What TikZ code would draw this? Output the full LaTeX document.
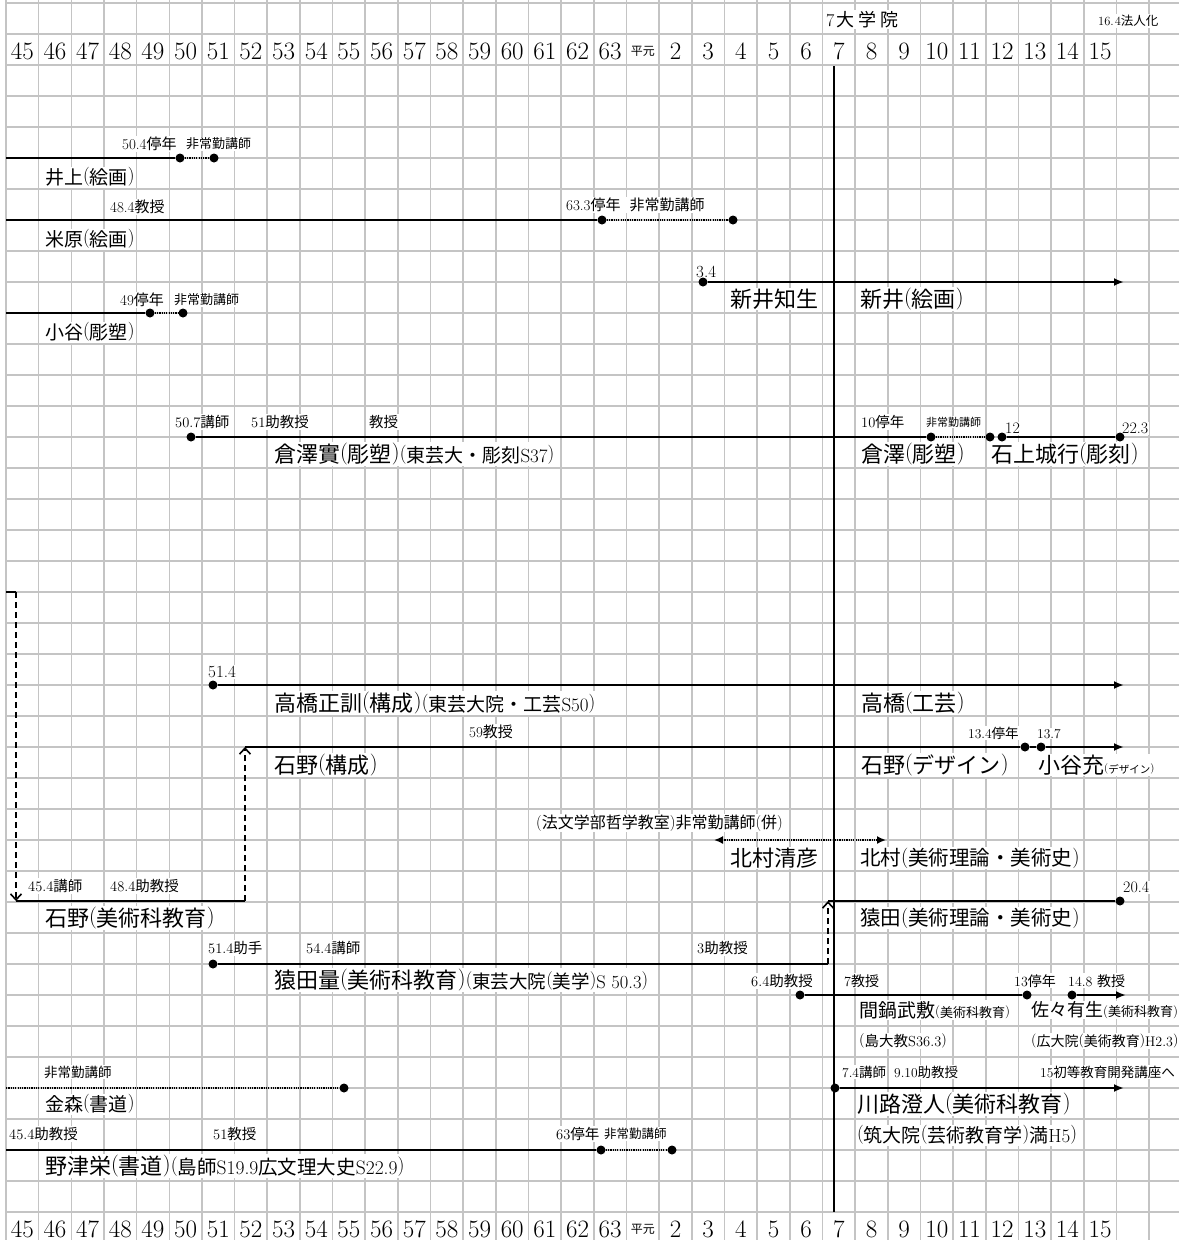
\documentclass[tikz,border=0pt]{standalone}
\usepackage{fontspec}
\newfontfamily\jp{Noto Sans CJK JP}
\usetikzlibrary{arrows.meta}
\newcommand\jt[1]{{\jp #1}}
\newcommand\LP{{\rmfamily\raisebox{0.12em}{(}}}
\newcommand\RP{{\rmfamily\raisebox{0.12em}{)}}}
\newcommand\lbl[5]{\node[lb] (#1) at (#2,{#3+0.37*#4}) {\fontsize{#4}{#4}\selectfont #5};}
\newcommand\fs[1]{\fontsize{#1}{#1}\selectfont}
\begin{document}
\begin{tikzpicture}[x=1pt,y=-1pt,
  grid/.style={draw=black!23, line width=1.6pt},
  tl/.style={draw=black, line width=2.2pt},
  dt/.style={draw=black, line width=1.7pt, dash pattern=on 1.2pt off 1.1pt},
  dsh/.style={draw=black, line width=1.6pt, dash pattern=on 6pt off 4pt},
  dot/.style={circle, fill=black, inner sep=0pt, minimum size=9pt},
  tip/.style={-{Latex[length=10pt,width=8pt]}},
  barb/.style={-{Straight Barb[length=6pt,width=11pt]}},
  lb/.style={anchor=base west, inner sep=1pt, fill=white},
  yr/.style={anchor=base, inner sep=0pt, font=\fontsize{25}{25}\selectfont}]
\fill[white] (0,0) rectangle (1179,1240);
\useasboundingbox (0,0) rectangle (1179,1240);
% grid
\foreach \k in {0,...,35} \draw[grid] ({6+32.66*\k},0) -- ({6+32.66*\k},1240);
\foreach \j in {0,...,39} \draw[grid] (6,{3+31*\j}) -- (1179,{3+31*\j});
% year labels
\foreach \t [count=\i from 0] in {45,...,63} {
  \node[yr] (yt\i) at ({6+32.66*(\i+0.5)},59) {\t};
  \node[yr] (yb\i) at ({6+32.66*(\i+0.5)},1237) {\t};
}
\node[yr, font=\fs{12}\jp] (yt19) at ({6+32.66*19.5},55.5) {平元};
\node[yr, font=\fs{12}\jp] (yb19) at ({6+32.66*19.5},1233) {平元};
\foreach \t [count=\i from 20] in {2,...,15} {
  \node[yr] (yt\i) at ({6+32.66*(\i+0.5)},59) {\t};
  \node[yr] (yb\i) at ({6+32.66*(\i+0.5)},1237) {\t};
}
% top notes
\lbl{tdaigakuin}{825}{20}{18}{7\hspace{2pt}\jt{大\hspace{4pt}学\hspace{4pt}院}}
\lbl{thojin}{1097}{21}{12.5}{16.\hspace{1pt}4\jt{法人化}}
% labels
\lbl{ia}{121}{144}{15}{50.4\jt{停年}}
\lbl{ib}{185}{144}{13}{\jt{非常勤講師}}
\lbl{in}{44}{177}{19}{\jt{井上\LP 絵画\RP}}
\lbl{ya}{109}{207}{15}{48.4\jt{教授}}
\lbl{yb}{565}{205}{15}{63.3\jt{停年}\hspace{9pt}\jt{非常勤講師}}
\lbl{yn}{44}{239}{19}{\jt{米原\LP 絵画\RP}}
\lbl{na}{695}{271}{17}{3.4}
\lbl{nn}{729}{299}{22}{\jt{新井知生}}
\lbl{nm}{859}{299}{22}{\jt{新井\LP 絵画\RP}}
\lbl{ka}{119}{300}{15}{49\jt{停年}}
\lbl{kb}{173}{300}{13}{\jt{非常勤講師}}
\lbl{kn}{44}{332}{19}{\jt{小谷\LP 彫塑\RP}}
\lbl{ra}{174}{422}{14.5}{50.7\jt{講師}}
\lbl{rb}{250}{422}{14.5}{51\jt{助教授}}
\lbl{rc}{368}{422}{14.5}{\jt{教授}}
\lbl{rd}{860}{422}{14.5}{10\jt{停年}}
\lbl{re}{925}{422}{11}{\jt{非常勤講師}}
\lbl{rf}{1004}{428}{16}{12}
\lbl{rg}{1121}{428}{16}{22.3}
\lbl{rn}{273}{454}{22}{\jt{倉澤實\LP 彫塑\RP}{\fs{19}\jt{\LP 東芸大・彫刻}S37\RP}}
\lbl{rm}{860}{454}{22}{\jt{倉澤\LP 彫塑\RP}}
\lbl{rs}{990}{454}{22}{\jt{石上城行\LP 彫刻\RP}}
\lbl{ha}{207}{671}{17}{51.4}
\lbl{hn}{273}{703}{22}{\jt{高橋正訓\LP 構成\RP}{\fs{19}\jt{\LP 東芸大院・工芸}S50\RP}}
\lbl{hm}{860}{703}{22}{\jt{高橋\LP 工芸\RP}}
\lbl{sa}{468}{732}{15}{59\jt{教授}}
\lbl{sb}{967}{733}{13.5}{13.4\jt{停年}}
\lbl{sc}{1036}{733}{13.5}{13.7}
\lbl{sn}{273}{765}{22}{\jt{石野\LP 構成\RP}}
\lbl{sm}{860}{765}{22}{\jt{石野\LP デザイン\RP}}
\lbl{so}{1037}{765}{22}{\jt{小谷充}{\fs{10.5}\jt{\LP デザイン\RP}}}
\lbl{ka2}{535}{823}{16}{\jt{\LP 法文学部哲学教室\RP 非常勤講師\LP 併\RP}}
\lbl{kn2}{729}{858}{22}{\jt{北村清彦}}
\lbl{km2}{859}{858}{20.5}{\jt{北村\LP 美術理論・美術史\RP}}
\lbl{ea}{27}{886}{14.5}{45.4\jt{講師}}
\lbl{eb}{109}{886}{14.5}{48.4\jt{助教授}}
\lbl{en}{44}{918}{22}{\jt{石野\LP 美術科教育\RP}}
\lbl{qa}{1122}{887}{16}{20.4}
\lbl{qn}{859}{918}{20.5}{\jt{猿田\LP 美術理論・美術史\RP}}
\lbl{pa}{207}{948}{14.5}{51.4\jt{助手}}
\lbl{pb}{305}{948}{14.5}{54.4\jt{講師}}
\lbl{pc}{696}{948}{14.5}{3\jt{助教授}}
\lbl{pn}{273}{980}{22}{\jt{猿田量\LP 美術科教育\RP}{\fs{18.5}\jt{\LP 東芸大院\LP 美学\RP}S 50.3\RP}}
\lbl{wa}{750}{981}{14.5}{6.4\jt{助教授}}
\lbl{wb}{843}{981}{14}{7\jt{教授}}
\lbl{wc}{1013}{981}{14}{13\jt{停年}}
\lbl{wd}{1067}{981}{14}{14.8 \jt{教授}}
\lbl{wn}{858}{1010}{19}{\jt{間鍋武敷}{\fs{13}\jt{\LP 美術科教育\RP}}}
\lbl{wm}{1030}{1010}{18}{\jt{佐々有生}{\fs{13}\jt{\LP 美術科教育\RP}}}
\lbl{wo}{858}{1041}{14.5}{\jt{\LP 島大教}S36.3\RP}
\lbl{wp}{1030}{1041}{14}{\jt{\LP 広大院\LP 美術教育\RP}H2.3\RP}
\lbl{ga}{43}{1072}{13.5}{\jt{非常勤講師}}
\lbl{gn}{44}{1104}{19}{\jt{金森\LP 書道\RP}}
\lbl{ca}{841}{1072}{13.5}{7.4\jt{講師}}
\lbl{cb}{893}{1072}{13.5}{9.10\jt{助教授}}
\lbl{cc}{1039}{1072}{13.5}{15\jt{初等教育開発講座へ}}
\lbl{cn}{856}{1104}{22}{\jt{川路澄人\LP 美術科教育\RP}}
\lbl{co}{856}{1135}{19}{\jt{\LP 筑大院\LP 芸術教育学\RP 満}H5\RP}
\lbl{za}{8}{1134}{14.5}{45.4\jt{助教授}}
\lbl{zb}{212}{1134}{14.5}{51\jt{教授}}
\lbl{zc}{555}{1134}{14.5}{63\jt{停年}}
\lbl{zd}{603}{1134}{12.5}{\jt{非常勤講師}}
\lbl{zn}{44}{1166}{22}{\jt{野津栄\LP 書道\RP}{\fs{19.5}\jt{\LP 島師}S19.9\jt{広文理大史}S22.9\RP}}
% vertical line at 7
\coordinate (v1) at (834,66);
\coordinate (v2) at (834,1212);
\draw[black, line width=2pt] (v1) -- (v2);
% 井上
\coordinate (i0) at (6,158);
\node[dot] (i1) at (180,158) {};
\node[dot] (i2) at (214,158) {};
\draw[tl] (i0) -- (i1);
\draw[dt] (i1) -- (i2);
% 米原
\coordinate (y0) at (6,220);
\node[dot] (y1) at (602,220) {};
\node[dot] (y2) at (733,220) {};
\draw[tl] (y0) -- (y1);
\draw[dt] (y1) -- (y2);
% 新井
\node[dot] (n1) at (703,282) {};
\coordinate (n2) at (1124,282);
\draw[tl,tip] (n1) -- (n2);
% 小谷
\coordinate (k0) at (6,313);
\node[dot] (k1) at (150,313) {};
\node[dot] (k2) at (183,313) {};
\draw[tl] (k0) -- (k1);
\draw[dt] (k1) -- (k2);
% 倉澤
\node[dot] (r1) at (191,437) {};
\node[dot] (r2) at (931,437) {};
\node[dot] (r3) at (990,437) {};
\node[dot] (r4) at (1002,437) {};
\node[dot] (r5) at (1120,437) {};
\draw[tl] (r1) -- (r2);
\draw[dt] (r2) -- (r3);
\draw[tl] (r4) -- (r5);
% dashed connector from left
\coordinate (a0) at (6,592);
\coordinate (a1) at (16,592);
\coordinate (a2) at (16,901);
\draw[black, line width=1.6pt] (a0) -- (a1);
\draw[dsh,barb] (a1) -- (a2);
% 高橋
\node[dot] (h1) at (213,685) {};
\coordinate (h2) at (1124,685);
\draw[tl,tip] (h1) -- (h2);
% 石野 (構成)
\coordinate (s1) at (245,747);
\node[dot] (s2) at (1025,747) {};
\node[dot] (s3) at (1041,747) {};
\coordinate (s4) at (1124,747);
\draw[tl] (s1) -- (s2);
\draw[tl] (s2) -- (s3);
\draw[tl,tip] (s3) -- (s4);
% 北村
\coordinate (b1) at (714,840);
\coordinate (b2) at (886,840);
\draw[dt, {Latex[length=9pt,width=8pt]}-{Latex[length=9pt,width=8pt]}] (b1) -- (b2);
% 石野 (美術科教育)
\coordinate (m1) at (245,901);
\draw[tl] (a2) -- (m1);
\draw[dsh,barb] (m1) -- (s1);
% 猿田
\coordinate (q1) at (828,901);
\node[dot] (q2) at (1120,901) {};
\draw[tl] (q1) -- (q2);
% 猿田量
\node[dot] (p1) at (213,964) {};
\coordinate (p2) at (828,964);
\draw[tl] (p1) -- (p2);
\draw[dsh,barb] (p2) -- (q1);
% 間鍋
\node[dot] (w1) at (800,995) {};
\node[dot] (w2) at (1027,995) {};
\node[dot] (w3) at (1072,995) {};
\coordinate (w4) at (1126,995);
\draw[tl] (w1) -- (w2);
\draw[tl,tip] (w3) -- (w4);
% 金森
\coordinate (g0) at (6,1088);
\node[dot] (g1) at (344,1088) {};
\draw[dt] (g0) -- (g1);
% 川路
\node[dot] (c1) at (835,1088) {};
\coordinate (c2) at (1124,1088);
\draw[tl,tip] (c1) -- (c2);
% 野津
\coordinate (z0) at (6,1150);
\node[dot] (z1) at (601,1150) {};
\node[dot] (z2) at (672,1150) {};
\draw[tl] (z0) -- (z1);
\draw[dt] (z1) -- (z2);
\end{tikzpicture}
\end{document}
